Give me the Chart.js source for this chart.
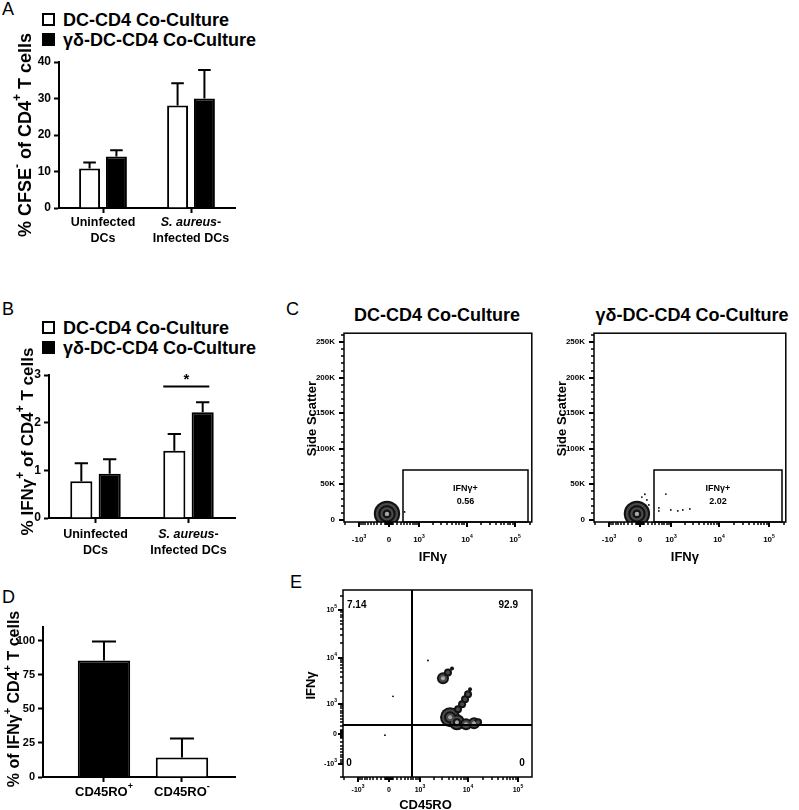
<!DOCTYPE html>
<html lang="en">
<head>
<meta charset="UTF-8">
<title>gamma-delta T cells and CD4 T cell responses</title>
<script src="https://cdn.jsdelivr.net/npm/chart.js@4.4.1/dist/chart.umd.min.js"></script>
<style>
  body { margin: 0; background: #fff; font-family: "Liberation Sans", Arial, sans-serif; color: #000; }
  #fig { position: relative; width: 799px; height: 810px; overflow: hidden; }
  canvas, .t { position: absolute; }
  .letter { font-size: 18px; line-height: 18px; }
  .leg, .ttl { font-size: 18px; font-weight: bold; line-height: 20px; white-space: nowrap; }
  .ttl { transform: translateX(-50%); }
  .sw { position: absolute; width: 13px; height: 13px; border: 2px solid #000; box-sizing: border-box; background: #fff; }
  .sw.fill { background: #000; }
</style>
</head>
<body>
<div id="fig">
  <div class="t letter" style="left:2px;top:0px">A</div>
  <div class="t letter" style="left:2px;top:300px">B</div>
  <div class="t letter" style="left:286px;top:300px">C</div>
  <div class="t letter" style="left:2px;top:588px">D</div>
  <div class="t letter" style="left:290px;top:573px">E</div>

  <div class="sw" style="left:42px;top:13px"></div>
  <div class="sw fill" style="left:42px;top:33px"></div>
  <div class="t leg" id="legA1" style="left:63px;top:10px"></div>
  <div class="t leg" id="legA2" style="left:63px;top:30px"></div>
  <div class="sw" style="left:42px;top:321px"></div>
  <div class="sw fill" style="left:42px;top:341px"></div>
  <div class="t leg" id="legB1" style="left:63px;top:318px"></div>
  <div class="t leg" id="legB2" style="left:63px;top:338px"></div>
  <div class="t ttl" id="ttlC1" style="left:437px;top:305px"></div>
  <div class="t ttl" id="ttlC2" style="left:692px;top:305px"></div>

  <canvas id="chartA" width="260" height="255" style="left:0;top:0"></canvas>
  <canvas id="chartB" width="260" height="255" style="left:0;top:300px"></canvas>
  <canvas id="chartC1" width="250" height="260" style="left:295px;top:320px"></canvas>
  <canvas id="chartC2" width="254" height="260" style="left:545px;top:320px"></canvas>
  <canvas id="chartD" width="260" height="220" style="left:0;top:590px"></canvas>
  <canvas id="chartE" width="250" height="230" style="left:295px;top:580px"></canvas>
</div>
<script>
// ---- data ----
const coCultures = ['DC-CD4 Co-Culture', 'γδ-DC-CD4 Co-Culture'];
const dcGroups = [['Uninfected', 'DCs'], ['*S. aureus*-', 'Infected DCs']];

const cfseDC = [10.8, 28.1];
const cfseDCSem = [1.7, 6.1];
const cfseGD = [14.1, 30.0];
const cfseGDSem = [1.7, 7.8];

const ifnDC = [0.77, 1.41];
const ifnDCSem = [0.38, 0.35];
const ifnGD = [0.93, 2.22];
const ifnGDSem = [0.30, 0.21];

const memLabels = ['CD45RO^{+}', 'CD45RO^{-}'];
const memPct = [85.5, 14.3];
const memSem = [13.8, 14.0];

// flow plots (raw fluorescence units)
const sscTicks = [0, 50000, 100000, 150000, 200000, 250000];
const sscTickLabels = ['0', '50K', '100K', '150K', '200K', '250K'];
const logTicks = [-1000, 0, 1000, 10000, 100000];
const logTickLabels = ['-10^{3}', '0', '10^{3}', '10^{4}', '10^{5}'];
const gateX = [350, 182000];
const gateY = [-3000, 70000];
const gateName = 'IFNγ+';
const gatePct = ['0.56', '2.02'];
// contour populations: [x, y, density level]
const dcPop = [[-47, 8400, 6]];
const gdPop = [[-70, 8400, 6]];
const dcEvents = [[412, 11200]];
const gdEvents = [[772, 36300], [507, 16800], [507, 12600], [1006, 14000], [1428, 12600],
  [1824, 14000], [2545, 15400], [218, 21000], [168, 28000], [47, 32000], [118, 36000]];

const memPop = [[3070, 3680, 3], [3880, 4920, 2], [4680, 5970, 1],
  [7470, 996, 2], [8570, 1300, 2], [9830, 1680, 2], [10800, 2150, 1],
  [4270, 454, 5], [5890, 301, 4], [8970, 245, 3], [13000, 273, 3], [15650, 301, 2], [6180, 757, 2]];
const memEvents = [[1500, 8750], [95, 1510], [-95, -32]];
const quadX = 650;
const quadY = 220;
const quadPct = ['7.14', '92.9', '0', '0'];

// ---- setup ----
const FONT = '"Liberation Sans", Arial, sans-serif';
Chart.defaults.font.family = FONT;
Chart.defaults.color = '#000';
Chart.defaults.animation = false;
Chart.defaults.events = [];
Chart.defaults.plugins.legend.display = false;
Chart.defaults.plugins.tooltip.enabled = false;

document.getElementById('legA1').textContent = coCultures[0];
document.getElementById('legA2').textContent = coCultures[1];
document.getElementById('legB1').textContent = coCultures[0];
document.getElementById('legB2').textContent = coCultures[1];
document.getElementById('ttlC1').textContent = coCultures[0];
document.getElementById('ttlC2').textContent = coCultures[1];

const bx = v => Math.asinh(v / 508); // biexponential-like display transform

// text with *italic* and ^{sup}
function richParts(str) {
  const parts = [];
  let italic = false, buf = '', i = 0;
  const push = sup => { if (buf) parts.push({ t: buf, italic, sup }); buf = ''; };
  while (i < str.length) {
    const c = str[i];
    if (c === '*') { push(false); italic = !italic; i++; }
    else if (c === '^' && str[i + 1] === '{') {
      push(false);
      const end = str.indexOf('}', i);
      buf = str.slice(i + 2, end); push(true); i = end + 1;
    } else { buf += c; i++; }
  }
  push(false);
  return parts;
}

function drawRich(ctx, str, x, y, size, align = 'center', weight = 'bold') {
  const parts = richParts(str);
  const fontOf = p => (p.italic ? 'italic ' : '') + weight + ' ' + (p.sup ? Math.round(size * 0.68) : size) + 'px ' + FONT;
  let total = 0;
  parts.forEach(p => { ctx.font = fontOf(p); p.w = ctx.measureText(p.t).width; total += p.w; });
  let cx = align === 'center' ? x - total / 2 : align === 'right' ? x - total : x;
  ctx.textAlign = 'left';
  ctx.textBaseline = 'middle';
  parts.forEach(p => {
    ctx.font = fontOf(p);
    ctx.fillText(p.t, cx, p.sup ? y - size * 0.45 : y);
    cx += p.w;
  });
}

function drawRichUp(ctx, str, x, y, size) {
  ctx.save();
  ctx.translate(x, y);
  ctx.rotate(-Math.PI / 2);
  drawRich(ctx, str, 0, 0, size);
  ctx.restore();
}

// ---- bar charts ----
function barDecor(o) {
  return {
    id: 'barDecor',
    afterDatasetsDraw(chart) {
      const { ctx, chartArea, scales: { x, y } } = chart;
      ctx.save();
      ctx.strokeStyle = '#000';
      ctx.fillStyle = '#000';
      ctx.lineWidth = 2;
      chart.data.datasets.forEach((ds, di) => {
        chart.getDatasetMeta(di).data.forEach((bar, i) => {
          const raw = ds.data[i];
          const v = typeof raw === 'object' ? raw.y : raw;
          const top = y.getPixelForValue(v + ds.errors[i]);
          const cap = Math.min(bar.width * 0.3, 12);
          ctx.beginPath();
          ctx.moveTo(bar.x, bar.y);
          ctx.lineTo(bar.x, top);
          ctx.moveTo(bar.x - cap, top);
          ctx.lineTo(bar.x + cap, top);
          ctx.stroke();
        });
      });
      if (o.sig) {
        const m0 = chart.getDatasetMeta(0).data[o.sig.index];
        const m1 = chart.getDatasetMeta(1).data[o.sig.index];
        const py = y.getPixelForValue(o.sig.value);
        ctx.beginPath();
        ctx.moveTo(m0.x - m0.width / 2, py);
        ctx.lineTo(m1.x + m1.width * 0.3, py);
        ctx.stroke();
        ctx.font = 'bold 15px ' + FONT;
        ctx.textAlign = 'center';
        ctx.textBaseline = 'middle';
        ctx.fillText(o.sig.text, (m0.x + m1.x) / 2 - 2, py - 7);
      }
      o.catLabels.forEach((lines, i) => {
        const px = x.getPixelForTick(i);
        lines.forEach((ln, li) => drawRich(ctx, ln, px, chartArea.bottom + o.labelDY[li], o.labelSize));
      });
      drawRichUp(ctx, o.title, o.titleX, (chartArea.top + chartArea.bottom) / 2 + o.titleDY, o.titleSize);
      ctx.restore();
    }
  };
}

const axisGrid = { drawOnChartArea: false, tickLength: 5, tickWidth: 2, color: '#000', offset: false };
const axisBorder = { width: 2, color: '#000' };

function barChart(id, o) {
  return new Chart(document.getElementById(id), {
    type: 'bar',
    data: { labels: o.labels, datasets: o.datasets },
    options: {
      responsive: false,
      layout: { padding: o.padding },
      scales: {
        x: Object.assign({
          grid: axisGrid,
          border: axisBorder,
          ticks: { display: false },
          afterFit: s => { s.height = o.xHeight; }
        }, o.x || {}),
        y: {
          min: 0, max: o.yMax,
          ticks: { stepSize: o.yStep, padding: 3, font: { size: o.tickSize, weight: 'bold' } },
          grid: axisGrid,
          border: axisBorder,
          afterBuildTicks: s => { s.ticks = s.ticks.filter(t => t.value % o.yStep === 0); },
          afterFit: s => { s.width = o.yWidth; }
        }
      }
    },
    plugins: [barDecor(o)]
  });
}

function pairSets(a, aErr, b, bErr) {
  const common = { borderColor: '#000', borderWidth: 2, categoryPercentage: 0.61, barPercentage: 0.78 };
  return [
    Object.assign({ data: a, errors: aErr, backgroundColor: '#fff' }, common),
    Object.assign({ data: b, errors: bErr, backgroundColor: '#000' }, common)
  ];
}

barChart('chartA', {
  labels: dcGroups.map(g => g.join(' ')),
  datasets: pairSets(cfseDC, cfseDCSem, cfseGD, cfseGDSem),
  padding: { left: 0, top: 62, right: 25, bottom: 0 },
  xHeight: 47, yWidth: 59, yMax: 40, yStep: 10, tickSize: 12,
  catLabels: dcGroups, labelDY: [15, 31], labelSize: 12.5,
  title: '% CFSE^{-} of CD4^{+} T cells', titleX: 26, titleDY: 0, titleSize: 18
});

barChart('chartB', {
  labels: dcGroups.map(g => g.join(' ')),
  datasets: pairSets(ifnDC, ifnDCSem, ifnGD, ifnGDSem),
  padding: { left: 0, top: 75, right: 25, bottom: 0 },
  xHeight: 37, yWidth: 49, yMax: 3, yStep: 1, tickSize: 12,
  catLabels: dcGroups, labelDY: [17, 33], labelSize: 12.5,
  sig: { index: 1, value: 2.76, text: '*' },
  title: '% IFNγ^{+} of CD4^{+} T cells', titleX: 28, titleDY: -5, titleSize: 17
});

barChart('chartD', {
  datasets: [{
    data: memPct.map((v, i) => ({ x: i + 1, y: v })),
    errors: memSem,
    backgroundColor: ['#000', '#fff'],
    borderColor: '#000', borderWidth: 2,
    categoryPercentage: 0.8, barPercentage: 0.84
  }],
  x: {
    type: 'linear', offset: false, min: 0.218, max: 2.68,
    afterBuildTicks: s => { s.ticks = memLabels.map((_, i) => ({ value: i + 1 })); }
  },
  padding: { left: 0, top: 37, right: 25, bottom: 0 },
  xHeight: 33, yWidth: 43, yMax: 110, yStep: 25, tickSize: 11,
  catLabels: memLabels.map(l => [l]), labelDY: [15], labelSize: 13,
  title: '% of IFNγ^{+} CD4^{+} T cells', titleX: 15, titleDY: -3, titleSize: 16
});

// ---- flow plots ----
const logMinor = [];
[10, 100, 1000, 10000, 100000].forEach(d => {
  for (let k = 1; k <= 9; k++) {
    logMinor.push(k * d);
    if (d <= 1000) logMinor.push(-k * d);
  }
});
const sscMinor = [];
for (let v = 0; v <= 260000; v += 10000) sscMinor.push(v);

function flowDecor(o) {
  return {
    id: 'flowDecor',
    afterDatasetsDraw(chart) {
      const { ctx, chartArea: a, scales: { x, y } } = chart;
      const px = v => Math.round(x.getPixelForValue(bx(v)));
      const py = v => Math.round(y.getPixelForValue(o.yT(v)));
      const inX = v => bx(v) >= x.min && bx(v) <= x.max;
      const inY = v => o.yT(v) >= y.min && o.yT(v) <= y.max;
      ctx.save();
      ctx.strokeStyle = '#000';
      ctx.fillStyle = '#000';
      // frame
      ctx.lineWidth = 1.5;
      ctx.strokeRect(a.left, a.top, a.right - a.left, a.bottom - a.top);
      // ticks
      ctx.lineWidth = 1.5;
      ctx.beginPath();
      logMinor.filter(inX).forEach(v => { ctx.moveTo(px(v), a.bottom); ctx.lineTo(px(v), a.bottom + 3); });
      o.yMinor.filter(inY).forEach(v => { ctx.moveTo(a.left, py(v)); ctx.lineTo(a.left - 3, py(v)); });
      ctx.stroke();
      ctx.lineWidth = 2;
      ctx.beginPath();
      logTicks.forEach(v => { ctx.moveTo(px(v), a.bottom); ctx.lineTo(px(v), a.bottom + 5); });
      o.yTicks.forEach(v => { ctx.moveTo(a.left, py(v)); ctx.lineTo(a.left - 5, py(v)); });
      ctx.stroke();
      logTicks.forEach((v, i) => drawRich(ctx, logTickLabels[i], px(v), a.bottom + o.xLabelDY, o.tickSize));
      o.yTicks.forEach((v, i) => drawRich(ctx, o.yTickLabels[i], a.left - o.yLabelDX, py(v), o.tickSize, 'right'));
      // axis titles
      drawRich(ctx, o.xTitle, (a.left + a.right) / 2 + o.xTitleDX, a.bottom + o.xTitleDY, o.titleSize);
      drawRichUp(ctx, o.yTitle, a.left - 32, (a.top + a.bottom) / 2 + o.yTitleDY, o.titleSize);
      // gate
      if (o.gate) {
        const gx0 = px(gateX[0]), gx1 = px(gateX[1]);
        const gy0 = Math.min(py(gateY[0]), a.bottom), gy1 = py(gateY[1]);
        ctx.lineWidth = 1.5;
        ctx.strokeRect(gx0, gy1, gx1 - gx0, gy0 - gy1);
        const cx = (gx0 + gx1) / 2, cy = (gy0 + gy1) / 2;
        drawRich(ctx, gateName, cx, cy - 7, 9);
        drawRich(ctx, o.gate, cx, cy + 6, 9);
      }
      // quadrants
      if (o.quad) {
        ctx.lineWidth = 2;
        ctx.beginPath();
        ctx.moveTo(px(quadX), a.top); ctx.lineTo(px(quadX), a.bottom);
        ctx.moveTo(a.left, py(quadY)); ctx.lineTo(a.right, py(quadY));
        ctx.stroke();
        drawRich(ctx, quadPct[0], a.left + 4, a.top + 15, 10, 'left');
        drawRich(ctx, quadPct[1], a.right - 14, a.top + 15, 10, 'right');
        drawRich(ctx, quadPct[2], a.left + 6, a.bottom - 14, 10);
        drawRich(ctx, quadPct[3], a.right - 10, a.bottom - 14, 10);
      }
      ctx.restore();
    }
  };
}

function flowChart(id, o) {
  const levels = Math.max(...o.pop.map(p => p[2]));
  // Chart.js paints the last dataset first, so events go first and the widest contour last
  const datasets = [{
    data: o.events.map(e => ({ x: bx(e[0]), y: o.yT(e[1]) })),
    pointRadius: 0.9, pointBackgroundColor: '#000', pointBorderWidth: 0, clip: 0
  }];
  for (let k = 1; k <= levels; k++) {
    datasets.push({
      data: o.pop.filter(p => p[2] >= k).map(p => ({ x: bx(p[0]), y: o.yT(p[1]), lvl: p[2] })),
      pointRadius: k * o.ring,
      pointBackgroundColor: c => (k === 1 && c.raw.lvl > 2) ? '#a8a8a8' : ((c.raw.lvl - k) % 2 ? '#4a4a4a' : '#121212'),
      pointBorderWidth: 0,
      clip: 0
    });
  }
  return new Chart(document.getElementById(id), {
    type: 'scatter',
    data: { datasets },
    options: {
      responsive: false,
      layout: { padding: o.padding },
      scales: {
        x: { type: 'linear', display: false, min: bx(o.xRange[0]), max: bx(o.xRange[1]) },
        y: { type: 'linear', display: false, min: o.yT(o.yRange[0]), max: o.yT(o.yRange[1]) }
      }
    },
    plugins: [flowDecor(o)]
  });
}

const sscAxis = {
  yT: v => v, yRange: [-3000, 262500], yTicks: sscTicks, yTickLabels: sscTickLabels, yMinor: sscMinor,
  xRange: [-2100, 220000], xLabelDY: 18, yLabelDX: 9, tickSize: 8,
  xTitle: 'IFNγ', xTitleDX: -5, xTitleDY: 35, yTitle: 'Side Scatter', yTitleDY: -9, titleSize: 13,
  ring: 2.2
};

flowChart('chartC1', Object.assign({}, sscAxis, {
  padding: { left: 49, top: 12, right: 9, bottom: 58 },
  pop: dcPop, events: dcEvents, gate: gatePct[0]
}));

flowChart('chartC2', Object.assign({}, sscAxis, {
  padding: { left: 49, top: 12, right: 13, bottom: 58 },
  pop: gdPop, events: gdEvents, gate: gatePct[1]
}));

flowChart('chartE', {
  padding: { left: 48, top: 9, right: 13, bottom: 33 },
  yT: bx, yRange: [-2000, 262144], yTicks: logTicks,
  yTickLabels: logTickLabels, yMinor: logMinor,
  xRange: [-2100, 190000], xLabelDY: 13, yLabelDX: 6, tickSize: 7,
  xTitle: 'CD45RO', xTitleDX: -12, xTitleDY: 28, yTitle: 'IFNγ', yTitleDY: 2, titleSize: 13,
  ring: 2, pop: memPop, events: memEvents, quad: true
});
</script>
</body>
</html>
